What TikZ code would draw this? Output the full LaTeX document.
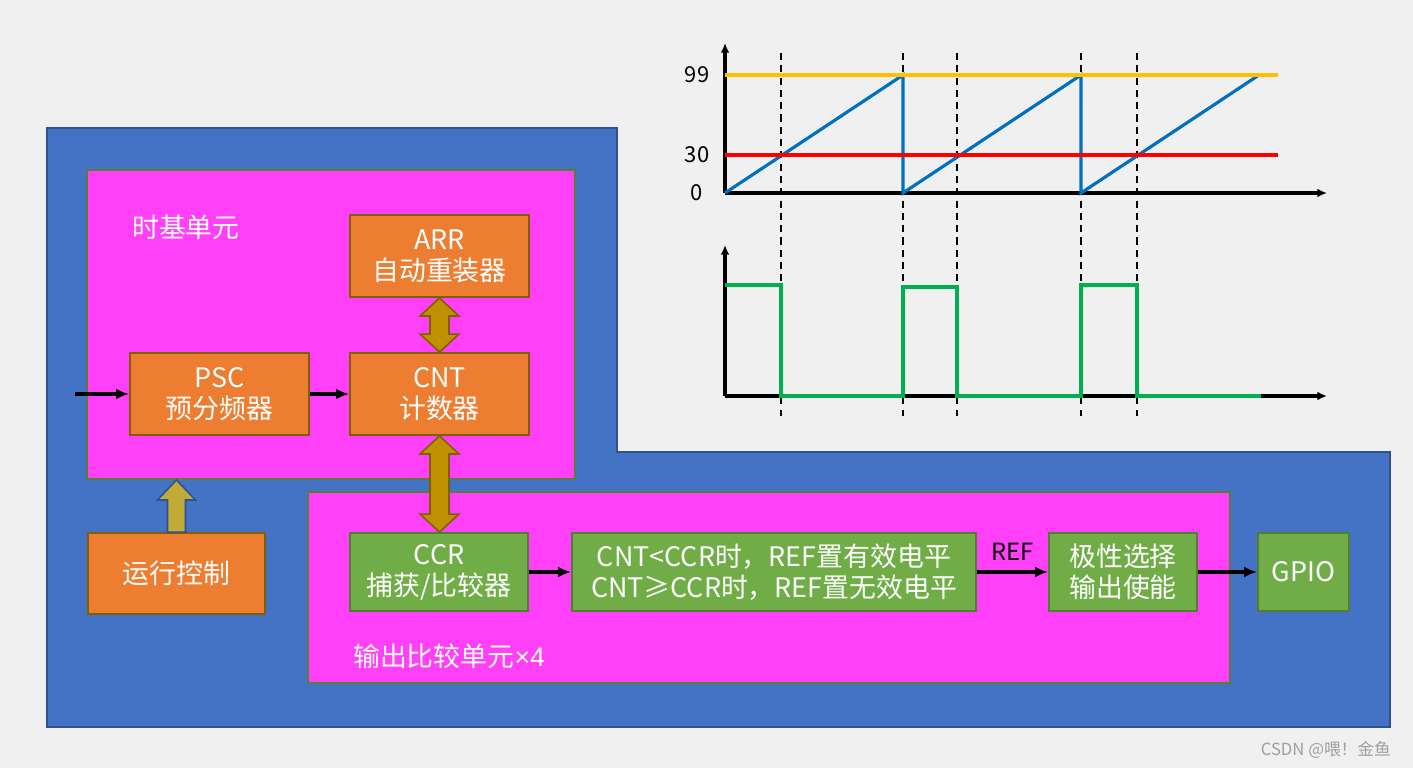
\documentclass[tikz,border=0pt]{standalone}
\usepackage{fontspec}
\setmainfont{Noto Sans CJK SC}
\newfontfamily\latinf{Liberation Sans}
\usepackage{tikz}
\usetikzlibrary{arrows.meta,positioning,calc}
\definecolor{pBg}{HTML}{F0F0F0}
\definecolor{pBlue}{HTML}{4472C4}
\definecolor{pBlueD}{HTML}{2F528F}
\definecolor{pMag}{HTML}{FF40F8}
\definecolor{pUnitD}{HTML}{538135}
\definecolor{pOrange}{HTML}{ED7D31}
\definecolor{pOlive}{HTML}{7F6000}
\definecolor{pGreen}{HTML}{70AD47}
\definecolor{pGreenD}{HTML}{507E32}
\definecolor{pGold}{HTML}{BF9000}
\definecolor{pRun}{HTML}{C0AA38}
\definecolor{wYellow}{HTML}{FFC000}
\definecolor{wRed}{HTML}{FF0000}
\definecolor{wBlue}{HTML}{0070C0}
\definecolor{wGreen}{HTML}{00B050}
% vertical double block arrow, tip #1 on top, tip #2 below
\newcommand{\dblarrow}[2]{%
  \draw[blkarr] (#1) -- ++(19.5,18) -- ++(-10,0) -- ($(#2)+(9.5,-18)$) -- ++(10,0)
    -- (#2) -- ++(-19.5,-18) -- ++(10,0) -- ($(#1)+(-9.5,18)$) -- ++(-10,0) -- cycle;}

\begin{document}
\begin{tikzpicture}[x=0.02cm, y=-0.02cm, font=\fontsize{15.3}{17.5}\selectfont,
  sz/.style 2 args={minimum width=#1*0.02cm, minimum height=#2*0.02cm},
  box/.style={draw, line width=1.1pt, text=white, align=center, inner sep=0pt},
  obox/.style={box, fill=pOrange, draw=pOlive},
  gbox/.style={box, fill=pGreen, draw=pGreenD},
  unit/.style={draw=pUnitD, fill=pMag, line width=1.1pt, inner sep=0pt},
  sig/.style={-{Latex[length=2.6mm,width=2.2mm]}, line width=2pt},
  blkarr/.style={fill=pGold, draw=pOlive, line width=0.9pt},
  axis/.style={-{Latex[length=5.5pt,width=5pt]}, line width=2pt},
  wave/.style={line width=1.8pt},
  vline/.style={line width=1pt, dash pattern=on 4pt off 3pt}]
\useasboundingbox (0,0) rectangle (1413,768);
\fill[pBg] (0,0) rectangle (1413,768);
\draw[draw=pBlueD, fill=pBlue, line width=0.6pt]
  (47,128) -| (617,452) -| (1390,727) -- (47,727) -- cycle;

% units
\node[unit, sz={488}{309}] (tbase) at (331,324.5) {};
\node[text=white, anchor=west] (tblbl) at (126,227) {时基单元};
\node[unit, sz={922}{191}] (ocu) at (769,587.5) {};
\node[text=white, anchor=west] (oclbl) at (347,656) {输出比较单元{\latinf ×4}};

% blocks
\node[obox, sz={179}{82}] (arr) at (439.5,256) {ARR\\自动重装器};
\node[obox, sz={179}{82}] (psc) at (219.5,394) {PSC\\预分频器};
\node[obox, sz={179}{82}] (cnt) at (439.5,394) {CNT\\计数器};
\node[obox, sz={177}{81}] (run) at (176.5,573.5) {运行控制};
\node[gbox, sz={178}{78}] (ccr) at (439,572) {CCR\\捕获/比较器};
\node[gbox, sz={404}{78}] (cmp) at (774,572) {CNT<CCR时，REF置有效电平\\CNT≥CCR时，REF置无效电平};
\node[gbox, sz={148}{78}] (pol) at (1123,572) {极性选择\\输出使能};
\node[gbox, sz={91}{78}] (gpio) at (1303.5,572) {GPIO};

\coordinate (clk) at (75,394);
\draw[sig] (clk) -- (psc);
\draw[sig] (psc) -- (cnt);
\draw[sig] (ccr) -- (cmp);
\draw[sig] (cmp) -- node[above=2pt, text=black, font=\fontsize{13.5}{15}\selectfont]{REF} (pol);
\draw[sig] (pol) -- (gpio);

\dblarrow{arr.south}{cnt.north}
\dblarrow{cnt.south}{cnt.south |- ccr.north}
\coordinate (runtip) at (run.north |- tbase.south);
\draw[fill=pRun, draw=pBlueD, line width=0.9pt] (runtip) -- ++(19,20) -- ++(-10,0)
  -- ($(run.north)+(9,0)$) -- ($(run.north)+(-9,0)$) -- ($(runtip)+(-9,20)$) -- ++(-10,0) -- cycle;

% waveforms
\foreach \x in {781,903,957,1081,1137} \draw[vline] (\x,53) -- (\x,416);
\draw[axis] (725,193) -- (725,43);
\draw[axis] (725,193) -- (1327,193);
\draw[wave, draw=wBlue]
  (725,193) -- (903,75) -- (903,193) -- (1081,75) -- (1081,193) -- (1259,75);
\draw[wave, draw=wYellow] (725,75) -- (1278,75);
\draw[wave, draw=wRed] (725,155) -- (1278,155);
\node (t99) at (697,75) {\fontsize{12.5}{14}\selectfont 99};
\node (t30) at (697,155) {\fontsize{12.5}{14}\selectfont 30};
\node (t0) at (697,193) {\fontsize{12.5}{14}\selectfont 0};
\draw[axis] (725,396) -- (725,245);
\draw[axis] (725,396) -- (1327,396);
\draw[wave, draw=wGreen]
  (725,285) -| (781,396) -| (903,287) -| (957,396) -| (1081,285) -| (1137,396) -- (1261,396);

\node[anchor=east, text=gray!75, font=\fontsize{9.5}{11}\selectfont] (mark) at (1397,750) {CSDN @喂！金鱼};
\end{tikzpicture}
\end{document}
